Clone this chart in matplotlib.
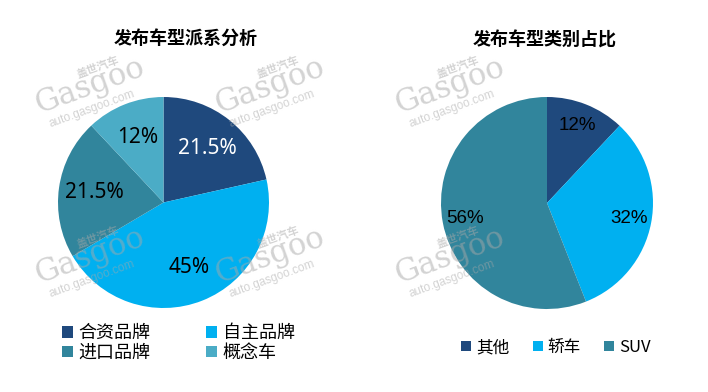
import matplotlib
matplotlib.use("Agg")
import matplotlib.pyplot as plt

plt.rcParams['font.family'] = ['Noto Sans CJK SC', 'DejaVu Sans']

# ---- data ----
left_title = "发布车型派系分析"
left_cats = ["合资品牌", "自主品牌", "进口品牌", "概念车"]
left_vals = [21.5, 45, 21.5, 12]
left_colors = ["#1F497D", "#00B0F0", "#31859C", "#4BACC6"]
left_text_colors = ["white", "black", "black", "black"]

right_title = "发布车型类别占比"
right_cats = ["其他", "轿车", "SUV"]
right_vals = [12, 32, 56]
right_colors = ["#1F497D", "#00B0F0", "#31859C"]

W, H = 708, 392
fig = plt.figure(figsize=(W / 100, H / 100), dpi=100)


def px_axes(x0, y0, w, h):
    return fig.add_axes([x0 / W, 1 - (y0 + h) / H, w / W, h / H])


def fmt(p):
    return f"{round(p, 1):g}%"


# ---- left pie ----
axL = px_axes(58, 97, 211, 211)
wedgesL, _, autL = axL.pie(left_vals, colors=left_colors, startangle=90, counterclock=False,
                           autopct=fmt, pctdistance=0.66,
                           wedgeprops=dict(linewidth=0),
                           textprops=dict(fontsize=15, family=['Noto Sans', 'DejaVu Sans']))
for t, c in zip(autL, left_text_colors):
    t.set_color(c)
axL.set_xlim(-1, 1); axL.set_ylim(-1, 1); axL.set_aspect('equal')
fig.text(186 / W, 1 - 38 / H, left_title, ha='center', va='center', fontsize=13, fontweight='bold')

orderL = [0, 2, 1, 3]
legL = fig.legend([wedgesL[i] for i in orderL], [left_cats[i] for i in orderL],
                  loc='upper left', bbox_to_anchor=(46 / W, 1 - 308 / H),
                  ncol=2, frameon=False, fontsize=13, handlelength=0.6, handleheight=0.6,
                  handletextpad=0.3, columnspacing=3.1, labelspacing=0.1)

# ---- right pie ----
axR = px_axes(441, 97, 212, 212)
wedgesR, _, autR = axR.pie(right_vals, colors=right_colors, startangle=90, counterclock=False,
                           autopct=fmt, pctdistance=0.79,
                           wedgeprops=dict(linewidth=0),
                           textprops=dict(fontsize=13.5, color='black',
                                          family=['Liberation Sans', 'DejaVu Sans']))
axR.set_xlim(-1, 1); axR.set_ylim(-1, 1); axR.set_aspect('equal')
fig.text(545 / W, 1 - 40 / H, right_title, ha='center', va='center', fontsize=13, fontweight='bold')

legR = fig.legend(wedgesR, right_cats, loc='upper left', bbox_to_anchor=(446 / W, 1 - 324 / H),
                  ncol=3, frameon=False, fontsize=12, handlelength=0.6, handleheight=0.6,
                  handletextpad=0.3, columnspacing=1.4)

# ---- watermarks ----
wm_centers = [(90, 86), (270, 86), (90, 256), (270, 256), (450, 86), (450, 256)]
for cx, cy in wm_centers:
    kw = dict(ha='center', va='center', rotation=20, color='#a8a8a8', alpha=0.5, zorder=10)
    fig.text((cx + 8) / W, 1 - (cy - 19) / H, "盖世汽车", fontsize=8, fontweight='bold', **kw)
    fig.text(cx / W, 1 - cy / H, "Gasgoo", fontsize=22, family='DejaVu Serif', **kw)
    fig.text((cx + 2) / W, 1 - (cy + 23) / H, "auto.gasgoo.com", fontsize=8.5,
             family='Liberation Sans', **kw)

fig.savefig("out.png", dpi=100)
